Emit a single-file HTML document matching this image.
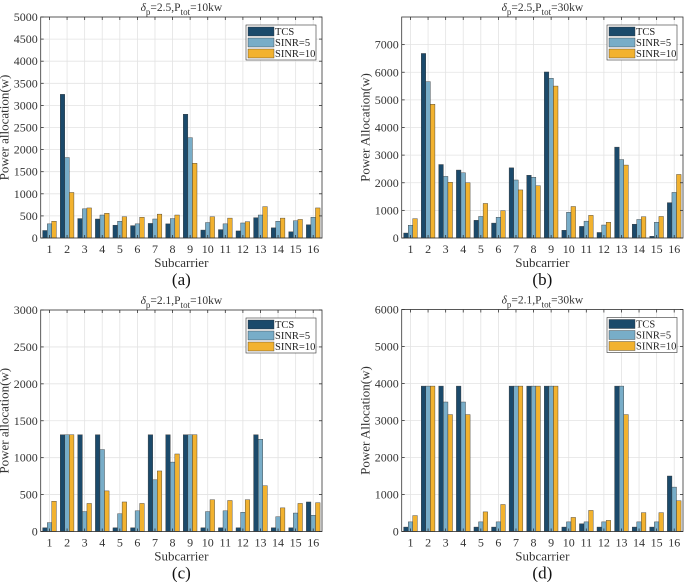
<!DOCTYPE html>
<html><head><meta charset="utf-8"><style>
body{margin:0;background:#fff}
svg{display:block;font-family:"Liberation Serif",serif}
</style></head><body>
<svg id="fig" width="685" height="582" viewBox="0 0 685 582" xmlns="http://www.w3.org/2000/svg"></svg>
<script>
const categories=[1,2,3,4,5,6,7,8,9,10,11,12,13,14,15,16];
const seriesNames=["TCS","SINR=5","SINR=10"];
const aTCS=[170,3250,440,430,290,280,330,320,2800,180,190,160,460,230,140,300];
const aS5=[320,1820,660,520,380,320,430,440,2270,350,320,340,520,380,390,470];
const aS10=[380,1030,680,560,480,470,540,520,1690,480,450,370,710,450,420,680];
const bTCS=[180,6680,2660,2460,640,540,2540,2270,6010,280,420,200,3290,500,60,1280];
const bS5=[460,5660,2230,2360,780,750,2100,2200,5780,930,610,470,2840,670,570,1650];
const bS10=[700,4840,2020,2000,1250,990,1740,1890,5500,1140,820,570,2640,770,780,2300];
const cTCS=[50,1310,1310,1310,50,50,1310,1310,1310,50,50,50,1310,50,50,400];
const cS5=[120,1310,270,1110,240,280,700,940,1310,270,280,260,1250,200,250,220];
const cS10=[410,1310,380,550,400,380,820,1050,1310,430,420,430,620,320,380,390];
const dTCS=[120,3930,3930,3930,120,120,3930,3930,3930,120,210,120,3930,120,120,1500];
const dS5=[260,3930,3500,3500,260,260,3930,3930,3930,260,260,260,3930,260,260,1200];
const dS10=[430,3930,3160,3160,530,730,3930,3930,3930,380,570,300,3160,510,510,830];
const aTicks=[0,500,1000,1500,2000,2500,3000,3500,4000,4500,5000];
const bTicks=[0,1000,2000,3000,4000,5000,6000,7000];
const cTicks=[0,500,1000,1500,2000,2500,3000];
const dTicks=[0,1000,2000,3000,4000,5000,6000];

const NS="http://www.w3.org/2000/svg";
const svg=document.getElementById('fig');
const colors=["#1b4a6b","#78adc8","#f2b22f"];
function el(tag,attrs,parent){const e=document.createElementNS(NS,tag);for(const k in attrs)e.setAttribute(k,attrs[k]);(parent||svg).appendChild(e);return e;}

function panel(id,L,R,T,B,ymax,ticks,series,p,delta,ylabel,letter){
  const g=el('g',{});
  
  
  const xs=v=>L+(v-0.5)/16*(R-L);
  const ys=v=>B-v/ymax*(B-T);
  const sp=(R-L)/16;
  ticks.forEach(t=>{const l=el('line',{x1:L,x2:R,y1:ys(t),y2:ys(t),stroke:'#e3e3e3','stroke-width':0.8},g);
    });
  categories.forEach(c=>{const l=el('line',{x1:xs(c),x2:xs(c),y1:T,y2:B,stroke:'#e3e3e3','stroke-width':0.8},g);
    });
  series.forEach((s,si)=>{
    s.forEach((v,i)=>{
      const cx=xs(categories[i])+(si-1)*0.26*sp;
      const r=el('rect',{x:cx-0.13*sp,y:ys(v),width:0.26*sp,height:B-ys(v),fill:colors[si],stroke:'#333','stroke-width':0.4},g);
      
      
    });
  });
  const bx=el('rect',{x:L,y:T,width:R-L,height:B-T,fill:'none',stroke:'#333','stroke-width':0.8},g);
  
  ticks.forEach(t=>{
    el('line',{x1:L,x2:L+3,y1:ys(t),y2:ys(t),stroke:'#333','stroke-width':0.8},g);
    el('line',{x1:R,x2:R-3,y1:ys(t),y2:ys(t),stroke:'#333','stroke-width':0.8},g);
    const tx=el('text',{x:L-3,y:ys(t)+4,'text-anchor':'end','font-size':12,fill:'#333'},g);
    tx.textContent=t;
    
  });
  categories.forEach(c=>{
    el('line',{x1:xs(c),x2:xs(c),y1:B,y2:B-3,stroke:'#333','stroke-width':0.8},g);
    el('line',{x1:xs(c),x2:xs(c),y1:T,y2:T+3,stroke:'#333','stroke-width':0.8},g);
    const tx=el('text',{x:xs(c),y:B+15,'text-anchor':'middle','font-size':12,fill:'#333'},g);
    tx.textContent=c;
    
  });
  const tt=el('text',{x:(L+R)/2,y:T-6,'text-anchor':'middle','font-size':11.5,fill:'#333'},g);
  
  tt.innerHTML='<tspan font-style="italic">δ</tspan><tspan dy="4" font-size="9">p</tspan><tspan dy="-4">='+delta+',P</tspan><tspan dy="4" font-size="9">tot</tspan><tspan dy="-4">='+p+'kw</tspan>';
  const xl=el('text',{x:(L+R)/2,y:B+29,'text-anchor':'middle','font-size':13,fill:'#333'},g);
  xl.textContent='Subcarrier';
  const yl=el('text',{transform:`translate(${L-32},${(T+B)/2}) rotate(-90)`,'text-anchor':'middle','font-size':13,fill:'#333'},g);
  yl.textContent=ylabel;
  const lt=el('text',{x:(L+R)/2,y:B+47,'text-anchor':'middle','font-size':17,fill:'#111'},g);
  lt.textContent='('+letter+')';
  const lx=R-76,ly=T+8;
  const lg=el('g',{},g);
  
  el('rect',{x:lx,y:ly,width:70,height:35,fill:'#fff',stroke:'#333','stroke-width':0.6},lg);
  seriesNames.forEach((n,i)=>{
    const e=el('rect',{x:lx+2,y:ly+2+i*11,width:26,height:9,fill:colors[i],stroke:'#333','stroke-width':0.4},lg);
    
    const t=el('text',{x:lx+29,y:ly+10+i*11,'font-size':10.5,fill:'#222'},lg);
    t.textContent=n;
  });
}
panel('a',40.7,322,17,238,5000,aTicks,[aTCS,aS5,aS10],10,'2.5','Power allocation(w)','a');
panel('b',401.7,683,17,238,8000,bTicks,[bTCS,bS5,bS10],30,'2.5','Power Allocation(w)','b');
panel('c',40.7,322,310,531.5,3000,cTicks,[cTCS,cS5,cS10],10,'2.1','Power allocation(w)','c');
panel('d',401.7,683,309.5,531.5,6000,dTicks,[dTCS,dS5,dS10],30,'2.1','Power Allocation(w)','d');
</script>
</body></html>
